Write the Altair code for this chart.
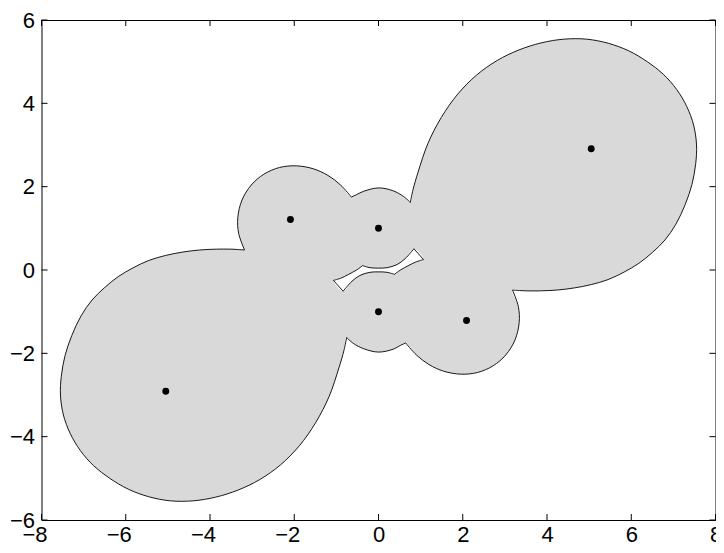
import altair as alt
import pandas as pd

# ---- data ----
dot_x = [-5.05, -2.09, 0.0, 0.0, 2.09, 5.05]
dot_y = [-2.91, 1.21, 1.0, -1.0, -1.21, 2.91]

# outer boundary, six arcs between cusps
seg1_x = [-3.18, -3.50, -3.85, -4.25, -4.65, -5.05, -5.45, -5.83, -6.18, -6.50, -6.80, -7.06, -7.28, -7.44, -7.53, -7.55, -7.48, -7.32, -7.08, -6.76, -6.38, -5.94, -5.46, -4.94, -4.40, -3.86, -3.33, -2.82, -2.33, -1.88, -1.49, -1.17, -0.94, -0.82, -0.755]
seg1_y = [0.48, 0.50, 0.50, 0.48, 0.43, 0.35, 0.23, 0.05, -0.16, -0.42, -0.72, -1.10, -1.57, -2.05, -2.55, -3.00, -3.48, -3.92, -4.33, -4.70, -5.00, -5.26, -5.44, -5.54, -5.54, -5.45, -5.28, -5.03, -4.68, -4.22, -3.66, -3.03, -2.35, -1.93, -1.62]
seg2_x = [-0.755, -0.60, -0.35, 0.0, 0.35, 0.52, 0.645]
seg2_y = [-1.62, -1.76, -1.89, -1.97, -1.90, -1.81, -1.75]
seg3_x = [0.645, 0.90, 1.20, 1.55, 1.95, 2.35, 2.72, 3.02, 3.24, 3.34, 3.32, 3.18]
seg3_y = [-1.75, -2.04, -2.27, -2.43, -2.50, -2.46, -2.30, -2.04, -1.68, -1.26, -0.88, -0.48]
seg4_x = [3.18, 3.50, 3.85, 4.25, 4.65, 5.05, 5.45, 5.83, 6.18, 6.50, 6.80, 7.06, 7.28, 7.44, 7.53, 7.55, 7.48, 7.32, 7.08, 6.76, 6.38, 5.94, 5.46, 4.94, 4.40, 3.86, 3.33, 2.82, 2.33, 1.88, 1.49, 1.17, 0.94, 0.82, 0.755]
seg4_y = [-0.48, -0.50, -0.50, -0.48, -0.43, -0.35, -0.23, -0.05, 0.16, 0.42, 0.72, 1.10, 1.57, 2.05, 2.55, 3.00, 3.48, 3.92, 4.33, 4.70, 5.00, 5.26, 5.44, 5.54, 5.54, 5.45, 5.28, 5.03, 4.68, 4.22, 3.66, 3.03, 2.35, 1.93, 1.62]
seg5_x = [0.755, 0.60, 0.35, 0.0, -0.35, -0.52, -0.645]
seg5_y = [1.62, 1.76, 1.90, 1.97, 1.89, 1.81, 1.75]
seg6_x = [-0.645, -0.90, -1.20, -1.55, -1.95, -2.35, -2.72, -3.02, -3.24, -3.34, -3.32, -3.18]
seg6_y = [1.75, 2.04, 2.27, 2.43, 2.50, 2.46, 2.30, 2.04, 1.68, 1.26, 0.88, 0.48]

# the small hole in the middle
hole1_x = [-0.38, -0.20, 0.0, 0.20, 0.44, 0.63, 0.84]
hole1_y = [0.105, 0.055, 0.045, 0.055, 0.13, 0.27, 0.51]
hole2_x = [0.84, 1.07]
hole2_y = [0.51, 0.25]
hole3_x = [1.07, 0.88, 0.72, 0.52, 0.38]
hole3_y = [0.25, 0.19, 0.11, 0.0, -0.105]
hole4_x = [0.38, 0.20, 0.0, -0.20, -0.44, -0.63, -0.84]
hole4_y = [-0.105, -0.055, -0.045, -0.055, -0.13, -0.27, -0.51]
hole5_x = [-0.84, -1.07]
hole5_y = [-0.51, -0.25]
hole6_x = [-1.07, -0.88, -0.72, -0.52, -0.38]
hole6_y = [-0.25, -0.19, -0.11, 0.0, 0.105]

x_ticks = [-8, -6, -4, -2, 0, 2, 4, 6, 8]
y_ticks = [-6, -4, -2, 0, 2, 4, 6]

outer = [(seg1_x, seg1_y), (seg2_x, seg2_y), (seg3_x, seg3_y),
         (seg4_x, seg4_y), (seg5_x, seg5_y), (seg6_x, seg6_y)]
holes = [(hole1_x, hole1_y), (hole2_x, hole2_y), (hole3_x, hole3_y),
         (hole4_x, hole4_y), (hole5_x, hole5_y), (hole6_x, hole6_y)]


def loop_table(segs):
    rows = []
    for k, (xs, ys) in enumerate(segs):
        start = 0 if k == 0 else 1
        for a, b in zip(xs[start:], ys[start:]):
            rows.append({"x": a, "y": b, "i": len(rows)})
    return pd.DataFrame(rows)


def seg_table(segs):
    rows = []
    for k, (xs, ys) in enumerate(segs):
        for j, (a, b) in enumerate(zip(xs, ys)):
            rows.append({"x": a, "y": b, "seg": k, "i": j})
    return pd.DataFrame(rows)


W, H = 674, 500
FONT = "Liberation Sans"
FS = 22
TL = 6

xs = alt.Scale(domain=[-8, 8], nice=False, zero=False)
ys = alt.Scale(domain=[-6, 6], nice=False, zero=False)

x_axis = alt.Axis(values=x_ticks, ticks=False, grid=False, domain=False, title=None,
                  labelFont=FONT, labelFontSize=FS, labelColor="black", labelPadding=4,
                  labelFlush=False,
                  labelOffset={"condition": {"test": "datum.value < 0", "value": -7}, "value": 0})
y_axis = alt.Axis(values=y_ticks, ticks=False, grid=False, domain=False, title=None,
                  labelFont=FONT, labelFontSize=FS, labelColor="black", labelPadding=7,
                  labelFlush=False)

fill_outer = alt.Chart(loop_table(outer)).mark_line(
    interpolate="catmull-rom", fill="#d9d9d9", stroke="#d9d9d9", strokeWidth=0
).encode(
    x=alt.X("x:Q", scale=xs, axis=x_axis),
    y=alt.Y("y:Q", scale=ys, axis=y_axis),
    order=alt.Order("i:Q"),
)

edge_outer = alt.Chart(seg_table(outer)).mark_line(
    interpolate="catmull-rom", color="black", strokeWidth=0.9
).encode(
    x=alt.X("x:Q", scale=xs), y=alt.Y("y:Q", scale=ys),
    detail="seg:N", order=alt.Order("i:Q"),
)

fill_hole = alt.Chart(loop_table(holes)).mark_line(
    interpolate="catmull-rom", fill="white", stroke="white", strokeWidth=0
).encode(
    x=alt.X("x:Q", scale=xs), y=alt.Y("y:Q", scale=ys),
    order=alt.Order("i:Q"),
)

edge_hole = alt.Chart(seg_table(holes)).mark_line(
    interpolate="catmull-rom", color="black", strokeWidth=0.9
).encode(
    x=alt.X("x:Q", scale=xs), y=alt.Y("y:Q", scale=ys),
    detail="seg:N", order=alt.Order("i:Q"),
)

dots = alt.Chart(pd.DataFrame({"x": dot_x, "y": dot_y})).mark_circle(
    size=48, color="black", opacity=1
).encode(x=alt.X("x:Q", scale=xs), y=alt.Y("y:Q", scale=ys))

xt = pd.DataFrame({"t": x_ticks})
yt = pd.DataFrame({"t": y_ticks})
tick_bottom = alt.Chart(xt).mark_rule(color="black", strokeWidth=1).encode(
    x=alt.X("t:Q", scale=xs), y=alt.value(H), y2=alt.value(H - TL))
tick_top = alt.Chart(xt).mark_rule(color="black", strokeWidth=1).encode(
    x=alt.X("t:Q", scale=xs), y=alt.value(0), y2=alt.value(TL))
tick_left = alt.Chart(yt).mark_rule(color="black", strokeWidth=1).encode(
    y=alt.Y("t:Q", scale=ys), x=alt.value(0), x2=alt.value(TL))
tick_right = alt.Chart(yt).mark_rule(color="black", strokeWidth=1).encode(
    y=alt.Y("t:Q", scale=ys), x=alt.value(W), x2=alt.value(W - TL))

chart = alt.layer(
    fill_outer, edge_outer, fill_hole, edge_hole, dots,
    tick_bottom, tick_top, tick_left, tick_right,
).properties(
    width=W, height=H,
    autosize=alt.AutoSizeParams(type="none"),
    padding={"left": 33.5, "top": 12, "right": 0.5, "bottom": 25},
    background="white",
).configure_view(
    stroke="black", strokeWidth=1
)

chart.save("out.html", embed_options={"renderer": "svg", "actions": False})
